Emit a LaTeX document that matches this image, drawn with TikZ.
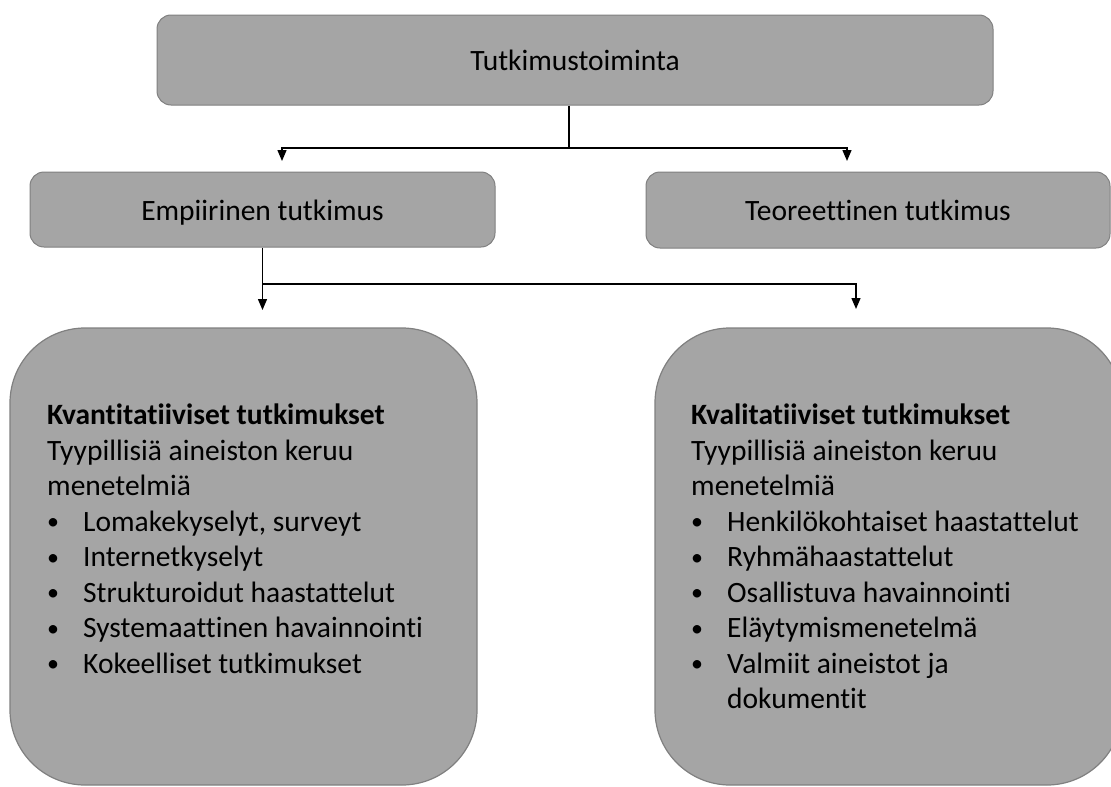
\documentclass[tikz,border=0pt]{standalone}
\usepackage{fontspec}
\setmainfont{Carlito}[Ligatures=NoCommon]
\usepackage{tikz}
\usetikzlibrary{arrows.meta, positioning, calc}
\definecolor{laatikko}{RGB}{165,165,165}
\definecolor{reuna}{RGB}{128,128,128}
\newcommand{\kohta}[1]{\makebox[36pt][l]{\hspace{0pt}\raisebox{1.5pt}{\fontsize{24}{24}\selectfont\textbullet}}#1}

\begin{document}
\begin{tikzpicture}[x=1pt, y=-1pt,
   box/.style={draw=reuna, fill=laatikko, line width=1pt, rounded corners=14pt,
               inner sep=0pt, text height=21pt, text depth=0pt,
               font=\fontsize{29.5}{35}\selectfont},
   iso/.style={box, rounded corners=75pt, line width=1.2pt},
   teksti/.style={anchor=north west, align=left, inner sep=0pt,
                  font=\fontsize{29.5}{35.5}\selectfont},
   arr/.style={-{Triangle[length=11pt, width=9pt]}, line width=1.4pt}]

  \useasboundingbox (0,0) rectangle (1111,787);

  % ylin taso
  \node[box, minimum width=836pt, minimum height=90pt] (tutk) at (575,60) {Tutkimustoiminta};

  % toinen taso
  \node[box, minimum width=465pt, minimum height=75pt] (empi) at (262.5,209.5) {Empiirinen tutkimus};
  \node[box, minimum width=464pt, minimum height=76pt] (teor) at (878,210) {Teoreettinen tutkimus};

  % alimmat laatikot
  \node[iso, minimum width=467pt, minimum height=457pt] (kvanti) at (243.5,556.5) {};
  \node[iso, minimum width=467pt, minimum height=457pt] (kvali) at (888.5,556.5) {};

  \node[teksti] (kvantiteksti) at (47,404) {\textbf{Kvantitatiiviset tutkimukset}\\
    Tyypillisiä aineiston keruu\\
    menetelmiä\\
    \kohta{Lomakekyselyt, surveyt}\\
    \kohta{Internetkyselyt}\\
    \kohta{Strukturoidut haastattelut}\\
    \kohta{Systemaattinen havainnointi}\\
    \kohta{Kokeelliset tutkimukset}};
  \node[teksti] (kvaliteksti) at (691,404) {\textbf{Kvalitatiiviset tutkimukset}\\
    Tyypillisiä aineiston keruu\\
    menetelmiä\\
    \kohta{Henkilökohtaiset haastattelut}\\
    \kohta{Ryhmähaastattelut}\\
    \kohta{Osallistuva havainnointi}\\
    \kohta{Eläytymismenetelmä}\\
    \kohta{Valmiit aineistot ja}\\
    \hspace{36pt}dokumentit};

  % yhdistäjät
  \coordinate (j1) at (569,148);
  \coordinate (a1) at (282,161);
  \coordinate (a2) at (847,161);
  \coordinate (j2) at (262.5,284);
  \coordinate (b1) at (262.5,310);
  \coordinate (b2) at (856,309);

  \draw[line width=1.4pt] (tutk.south -| j1) -- (j1);
  \draw[arr] (j1) -| (a1);
  \draw[arr] (j1) -| (a2);
  \draw[arr] (empi.south) -- (b1);
  \draw[arr] (j2) -| (b2);
\end{tikzpicture}
\end{document}
